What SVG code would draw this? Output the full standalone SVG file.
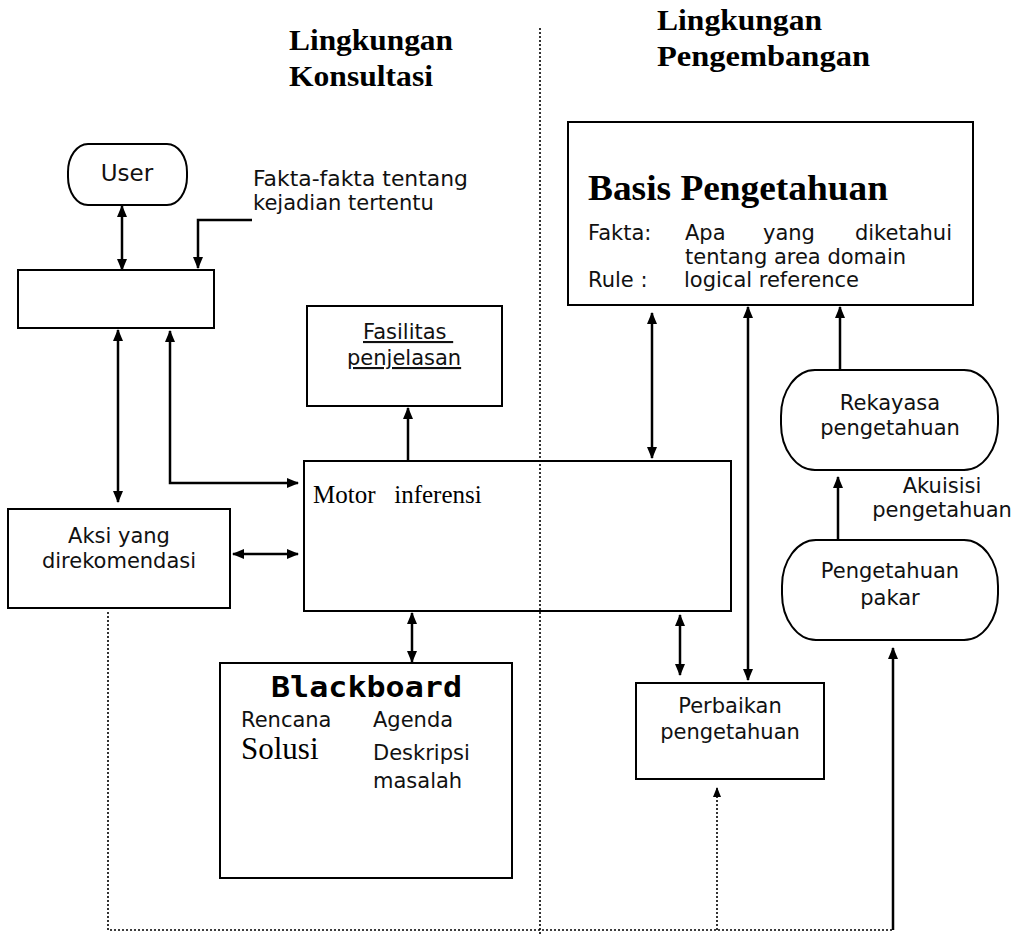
<svg xmlns="http://www.w3.org/2000/svg" width="1016" height="934" viewBox="0 0 1016 934">
<style>
.box{fill:none;stroke:#000;stroke-width:2}
.s{font-family:"DejaVu Sans","Liberation Sans",sans-serif;font-size:21px;fill:#111}
.c{text-anchor:middle}
.serif{font-family:"Liberation Serif","Times New Roman",serif;fill:#000}
.hd{font-family:"Liberation Serif","Times New Roman",serif;font-weight:bold;font-size:29px;fill:#000}
.ar{fill:none;stroke:#000;stroke-width:2.5}
.dot{fill:none;stroke:#000;stroke-width:1.6;stroke-dasharray:2 2}
</style>
<defs>
<marker id="ah" viewBox="0 0 12 10" refX="11" refY="5" markerWidth="12" markerHeight="10" markerUnits="userSpaceOnUse" orient="auto-start-reverse">
<path d="M0,0 L12,5 L0,10 z" fill="#000"/>
</marker>
<marker id="ahs" viewBox="0 0 10 8" refX="9" refY="4" markerWidth="10" markerHeight="8" markerUnits="userSpaceOnUse" orient="auto-start-reverse">
<path d="M0,0 L10,4 L0,8 z" fill="#000"/>
</marker>
</defs>
<rect width="1016" height="934" fill="#fff"/>

<g id="headings">
<text class="hd" x="289" y="50" textLength="164" lengthAdjust="spacingAndGlyphs">Lingkungan</text>
<text class="hd" x="289" y="86" textLength="144" lengthAdjust="spacingAndGlyphs">Konsultasi</text>
<text class="hd" x="657" y="30" textLength="165" lengthAdjust="spacingAndGlyphs">Lingkungan</text>
<text class="hd" x="657" y="66" textLength="213" lengthAdjust="spacingAndGlyphs">Pengembangan</text>
</g>

<g id="connectors">
<line class="dot" x1="540" y1="28" x2="540" y2="934"/>
<line class="ar" x1="122" y1="206" x2="122" y2="270" marker-start="url(#ah)" marker-end="url(#ah)"/>
<path class="ar" d="M252,220 H198 V268" marker-end="url(#ah)"/>
<line class="ar" x1="118" y1="330" x2="118" y2="502" marker-start="url(#ah)" marker-end="url(#ah)"/>
<path class="ar" d="M170,331 V483 H298" marker-start="url(#ah)" marker-end="url(#ah)"/>
<line class="ar" x1="233" y1="554" x2="298" y2="554" marker-start="url(#ah)" marker-end="url(#ah)"/>
<line class="ar" x1="408" y1="461" x2="408" y2="408" marker-end="url(#ah)"/>
<line class="ar" x1="412" y1="613" x2="412" y2="662" marker-start="url(#ah)" marker-end="url(#ah)"/>
<line class="ar" x1="652" y1="313" x2="652" y2="458" marker-start="url(#ah)" marker-end="url(#ah)"/>
<line class="ar" x1="748" y1="307" x2="748" y2="680" marker-start="url(#ah)" marker-end="url(#ah)"/>
<line class="ar" x1="680" y1="615" x2="680" y2="675" marker-start="url(#ah)" marker-end="url(#ah)"/>
<line class="ar" x1="840" y1="370" x2="840" y2="307" marker-end="url(#ah)"/>
<line class="ar" x1="838" y1="540" x2="838" y2="477" marker-end="url(#ah)"/>
<line class="ar" x1="893" y1="930" x2="893" y2="648" marker-end="url(#ah)"/>
<path class="dot" d="M108,612 V930 H893"/>
<line class="dot" x1="717" y1="930" x2="717" y2="788" marker-end="url(#ahs)"/>
</g>

<g id="user">
<rect class="box" x="68" y="144" width="119" height="61" rx="20" ry="28"/>
<text class="s c" x="127" y="181" style="font-size:23px">User</text>
</g>

<g id="fakta-label">
<text class="s" x="253" y="186" textLength="215" lengthAdjust="spacingAndGlyphs">Fakta-fakta tentang</text>
<text class="s" x="253" y="210">kejadian tertentu</text>
</g>

<g id="interface">
<rect class="box" x="18" y="270" width="196" height="58"/>
</g>

<g id="aksi">
<rect class="box" x="8" y="509" width="222" height="99"/>
<text class="s c" x="119" y="543">Aksi yang</text>
<text class="s c" x="119" y="568">direkomendasi</text>
</g>

<g id="fasilitas">
<rect class="box" x="307" y="306" width="195" height="100"/>
<text class="s" x="363" y="339" text-decoration="underline" xml:space="preserve">Fasilitas </text>
<text class="s" x="347" y="365" text-decoration="underline">penjelasan</text>
</g>

<g id="motor">
<rect class="box" x="304" y="461" width="427" height="150"/>
<text class="serif" x="313" y="503" font-size="25" xml:space="preserve">Motor   inferensi</text>
</g>

<g id="blackboard">
<rect class="box" x="220" y="663" width="292" height="215"/>
<text x="271" y="697" font-family="'DejaVu Sans Mono','Liberation Mono',monospace" font-weight="bold" font-size="29" textLength="191" lengthAdjust="spacingAndGlyphs">Blackboard</text>
<text class="s" x="241" y="727">Rencana</text>
<text class="s" x="373" y="727">Agenda</text>
<text class="serif" x="241" y="759" font-size="31">Solusi</text>
<text class="s" x="373" y="760">Deskripsi</text>
<text class="s" x="373" y="788">masalah</text>
</g>

<g id="basis">
<rect class="box" x="568" y="122" width="405" height="183"/>
<text class="serif" x="588" y="200" font-size="36" font-weight="bold" textLength="300" lengthAdjust="spacingAndGlyphs">Basis Pengetahuan</text>
<text class="s" x="588" y="240">Fakta:</text>
<text class="s" x="685" y="240">Apa</text>
<text class="s" x="763" y="240">yang</text>
<text class="s" x="952" y="240" text-anchor="end">diketahui</text>
<text class="s" x="685" y="264">tentang area domain</text>
<text class="s" x="588" y="287">Rule :</text>
<text class="s" x="684" y="287">logical reference</text>
</g>

<g id="rekayasa">
<rect class="box" x="781" y="370" width="217" height="100" rx="34" ry="46"/>
<text class="s c" x="890" y="410">Rekayasa</text>
<text class="s c" x="890" y="435">pengetahuan</text>
</g>

<g id="akuisisi-label">
<text class="s c" x="942" y="493">Akuisisi</text>
<text class="s c" x="942" y="517">pengetahuan</text>
</g>

<g id="pakar">
<rect class="box" x="782" y="540" width="216" height="100" rx="34" ry="46"/>
<text class="s c" x="890" y="578">Pengetahuan</text>
<text class="s c" x="890" y="605">pakar</text>
</g>

<g id="perbaikan">
<rect class="box" x="636" y="683" width="188" height="96"/>
<text class="s c" x="730" y="713">Perbaikan</text>
<text class="s c" x="730" y="739">pengetahuan</text>
</g>
</svg>
